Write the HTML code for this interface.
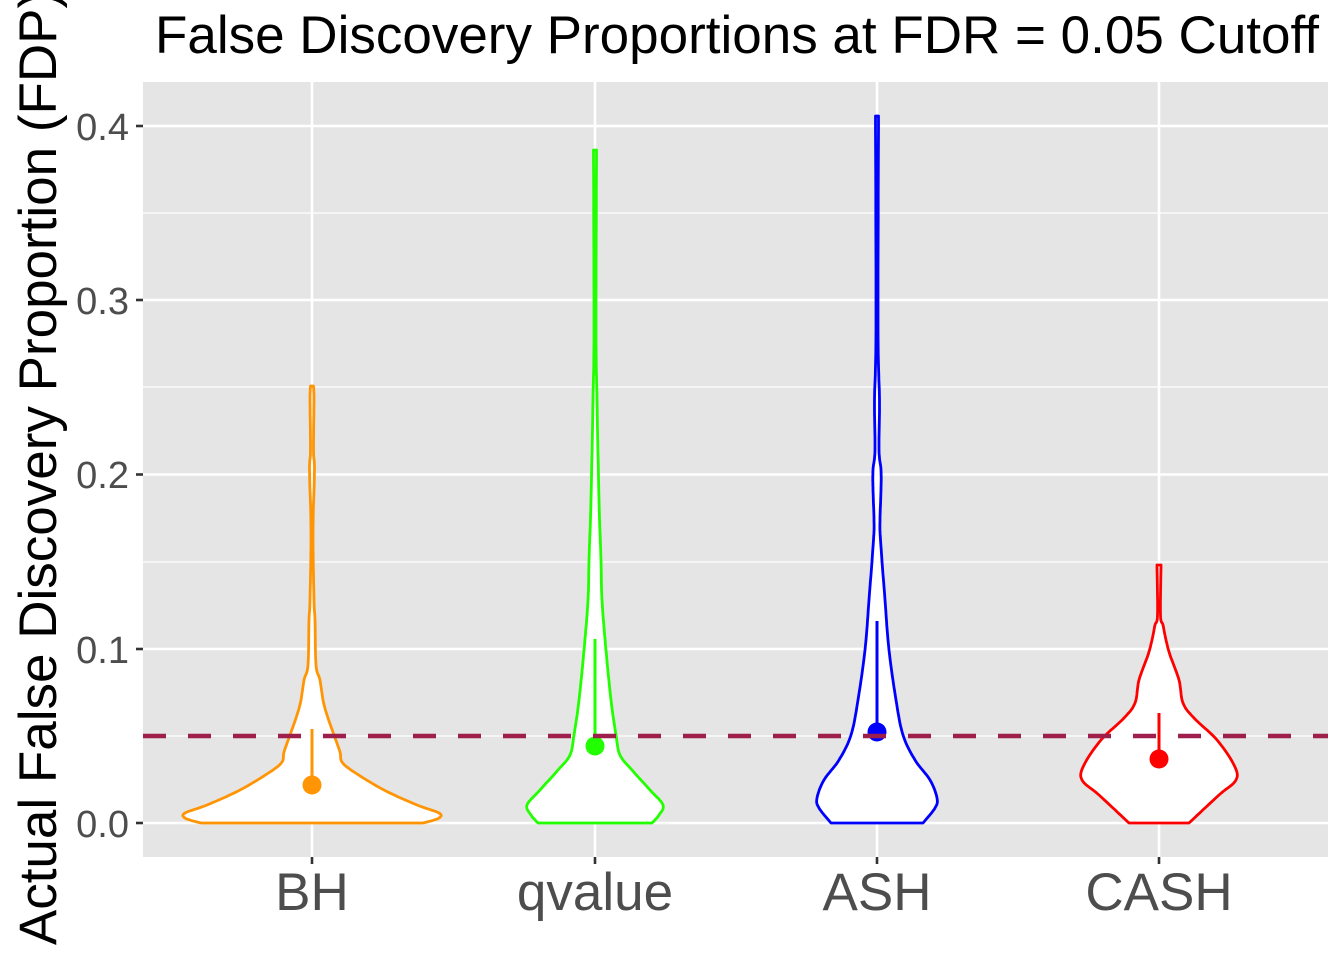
<!DOCTYPE html>
<html><head><meta charset="utf-8"><style>body{margin:0;background:#fff}svg{display:block}</style></head>
<body>
<svg width="1344" height="960" viewBox="0 0 1344 960" xmlns="http://www.w3.org/2000/svg" font-family="Liberation Sans, sans-serif">
<rect x="143" y="82" width="1185" height="775" fill="#E5E5E5"/>
<g stroke="#fff" stroke-width="1.2">
<line x1="143" x2="1328" y1="736" y2="736"/><line x1="143" x2="1328" y1="562" y2="562"/><line x1="143" x2="1328" y1="387" y2="387"/><line x1="143" x2="1328" y1="213" y2="213"/>
</g>
<g stroke="#fff" stroke-width="2.6">
<line x1="143" x2="1328" y1="823" y2="823"/><line x1="143" x2="1328" y1="649" y2="649"/><line x1="143" x2="1328" y1="474.5" y2="474.5"/><line x1="143" x2="1328" y1="300" y2="300"/><line x1="143" x2="1328" y1="126" y2="126"/>
<line x1="312" x2="312" y1="82" y2="857"/><line x1="595" x2="595" y1="82" y2="857"/><line x1="877" x2="877" y1="82" y2="857"/><line x1="1159" x2="1159" y1="82" y2="857"/>
</g>
<g id="v" fill="#fff" stroke-width="2.8" stroke-linejoin="round"></g>
<line x1="143" x2="1328" y1="736" y2="736" stroke="#9E1F4C" stroke-width="4.5" stroke-dasharray="23 22"/>
<g font-size="38" fill="#4D4D4D" text-anchor="end">
<text x="129" y="837">0.0</text><text x="129" y="663">0.1</text><text x="129" y="488">0.2</text><text x="129" y="314">0.3</text><text x="129" y="140">0.4</text>
</g>
<g stroke="#333" stroke-width="2.6"><line x1="136" x2="143" y1="823" y2="823"/><line x1="136" x2="143" y1="649" y2="649"/><line x1="136" x2="143" y1="474.5" y2="474.5"/><line x1="136" x2="143" y1="300" y2="300"/><line x1="136" x2="143" y1="126" y2="126"/>
<line x1="312" x2="312" y1="857" y2="864"/><line x1="595" x2="595" y1="857" y2="864"/><line x1="877" x2="877" y1="857" y2="864"/><line x1="1159" x2="1159" y1="857" y2="864"/></g>
<g font-size="53" fill="#4D4D4D" text-anchor="middle">
<text x="312" y="910">BH</text><text x="595" y="910">qvalue</text><text x="877" y="910">ASH</text><text x="1159" y="910">CASH</text>
</g>
<text transform="translate(56,468) rotate(-90)" font-size="53" text-anchor="middle" fill="#000">Actual False Discovery Proportion (FDP)</text>
<text x="737" y="53" font-size="53" text-anchor="middle" fill="#000">False Discovery Proportions at FDR = 0.05 Cutoff</text>
</svg>
<script>
const V=[
 {cx:312,c:"#FF9505",p:[[386,1.5],[400,2],[450,1.5],[470,2.5],[530,1],[600,2],[620,3],[665,4],[680,8],[700,11],[715,15],[735,22],[752,28],[762,30],[772,42],[790,72],[805,105],[813,127],[818,127],[822,115],[823,110]],d:785,l:729},
 {cx:595,c:"#22FF00",p:[[150,1.5],[330,1],[400,2],[500,4],[560,6],[600,7],[650,11],[700,16],[735,21],[755,25],[770,37],[790,55],[805,68],[815,64],[823,57]],d:746,l:639},
 {cx:877,c:"#0000FF",p:[[116,1.5],[330,1],[400,2.5],[450,2],[470,4],[490,4],[520,3],[540,3.5],[600,8],[650,12],[700,19],[735,26],[760,38],[780,53],[798,60],[808,58],[823,46]],d:732,l:621},
 {cx:1159,c:"#FF0000",p:[[565,2],[615,1.5],[625,4],[640,7],[655,11],[680,20],[703,24],[718,35],[740,58],[765,75],[780,77],[795,60],[823,30]],d:759,l:713}];
const g=document.getElementById('v');const ns="http://www.w3.org/2000/svg";
function interp(p){const o=[];for(let i=0;i<p.length-1;i++){const p0=p[Math.max(0,i-1)],p1=p[i],p2=p[i+1],p3=p[Math.min(p.length-1,i+2)];for(let t=0;t<1;t+=0.1){const t2=t*t,t3=t2*t;const f=(a,b,c,d)=>0.5*(2*b+(-a+c)*t+(2*a-5*b+4*c-d)*t2+(-a+3*b-3*c+d)*t3);o.push([f(p0[0],p1[0],p2[0],p3[0]),Math.max(0.8,f(p0[1],p1[1],p2[1],p3[1]))]);}}o.push(p[p.length-1]);return o;}
V.forEach(v=>{const s=interp(v.p);let L=s.map(q=>(v.cx-q[1]).toFixed(1)+","+q[0].toFixed(1));let R=s.slice().reverse().map(q=>(v.cx+q[1]).toFixed(1)+","+q[0].toFixed(1));
 let pg=document.createElementNS(ns,"polygon");pg.setAttribute("points",L.concat(R).join(" "));pg.setAttribute("stroke",v.c);g.appendChild(pg);
 let ln=document.createElementNS(ns,"line");ln.setAttribute("x1",v.cx);ln.setAttribute("x2",v.cx);ln.setAttribute("y1",v.l);ln.setAttribute("y2",v.d);ln.setAttribute("stroke",v.c);ln.setAttribute("stroke-width","3");g.appendChild(ln);
 let c=document.createElementNS(ns,"circle");c.setAttribute("cx",v.cx);c.setAttribute("cy",v.d);c.setAttribute("r","9.5");c.setAttribute("fill",v.c);c.setAttribute("stroke","none");g.appendChild(c);});
</script>
</body></html>
